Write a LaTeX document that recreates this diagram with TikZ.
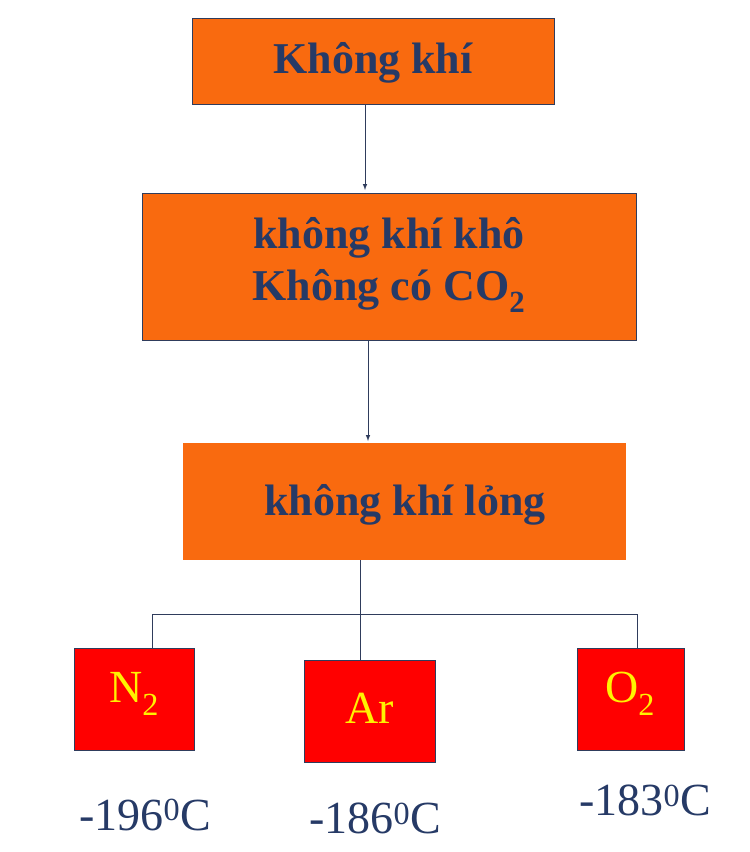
\documentclass[tikz,border=0pt]{standalone}
\usepackage{fontspec}
\setmainfont{Liberation Serif}
\definecolor{org}{HTML}{F96A0F}
\definecolor{txt}{HTML}{263A66}
\definecolor{bd}{HTML}{2F3C5C}
\begin{document}
\begin{tikzpicture}[x=1pt,y=-1pt,
  obox/.style={fill=org,draw=bd,line width=1pt},
  rbox/.style={fill=red,draw=bd,line width=1pt},
  btxt/.style={text=txt,font=\fontsize{44}{52}\selectfont\bfseries,align=center},
  ytxt/.style={text=yellow,font=\fontsize{46}{50}\selectfont},
  ttxt/.style={text=txt,font=\fontsize{46}{50}\selectfont},
  ln/.style={draw=bd,line width=1pt},
  arr/.style={ln,-latex}]
\useasboundingbox (0,0) rectangle (750,852);
\fill[white] (0,0) rectangle (750,852);
\draw[obox] (192,18) rectangle (554,104);
\node[btxt] (a) at (373,63) {Không khí};
\draw[obox] (142,193) rectangle (636,340);
\node[btxt] (b) at (389,265) {không khí khô\\Không có CO\textsubscript{2}};
\fill[org] (183,443) rectangle (626,560);
\node[btxt] (c) at (405,505) {không khí lỏng};
\coordinate (a1) at (365,104); \coordinate (b0) at (365,190);
\draw[arr] (a1) -- (b0);
\coordinate (b1) at (368,340); \coordinate (c0) at (368,441);
\draw[arr] (b1) -- (c0);
\draw[rbox] (74,648) rectangle (194,750);
\draw[rbox] (304,660) rectangle (435,762);
\draw[rbox] (577,648) rectangle (684,750);
\node[ytxt] (n) at (134,694) {N\textsubscript{2}};
\node[ytxt] (ar) at (370,708) {Ar};
\node[ytxt] (o) at (630,694) {O\textsubscript{2}};
\coordinate (c1) at (360,560); \coordinate (ar0) at (360,660);
\coordinate (l0) at (152,648); \coordinate (l1) at (152,614);
\coordinate (r1) at (637,614); \coordinate (r0) at (637,648);
\draw[ln] (c1) -- (ar0);
\draw[ln] (l0) -- (l1) -- (r1) -- (r0);
\node[ttxt] (t1) at (145,815) {-196\textsuperscript{0}C};
\node[ttxt] (t2) at (375,818) {-186\textsuperscript{0}C};
\node[ttxt] (t3) at (645,800) {-183\textsuperscript{0}C};
\end{tikzpicture}
\end{document}
